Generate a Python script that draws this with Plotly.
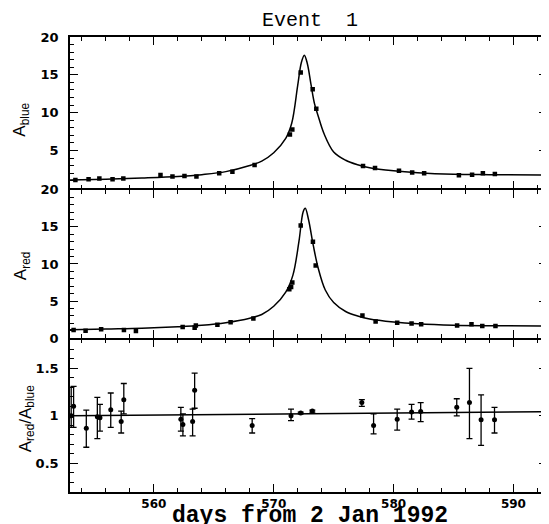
import plotly.graph_objects as go
from plotly.subplots import make_subplots

# ---- data ----
blue_days = [553.45, 554.55, 555.45, 556.55, 557.45, 560.55, 561.55, 562.55, 563.55, 565.45,
             566.55, 568.4, 571.35, 571.55, 572.25, 573.25, 573.55, 577.45, 578.45, 580.45,
             581.55, 582.55, 585.45, 586.55, 587.45, 588.45]
blue_amp = [1.09, 1.18, 1.28, 1.18, 1.28, 1.75, 1.54, 1.62, 1.54, 1.97,
            2.2, 3.07, 7.1, 7.76, 15.3, 13.1, 10.5, 2.93, 2.67, 2.33,
            2.07, 1.97, 1.71, 1.8, 1.97, 1.88]
blue_fit_days = [553.0, 556.0, 559.0, 562.0, 564.0, 566.0, 568.0, 569.0, 570.0, 571.0, 571.5,
                 572.0, 572.3, 572.55, 572.8, 573.1, 573.4, 573.7, 574.2, 575.0, 576.0, 577.0,
                 578.0, 580.0, 582.0, 585.0, 588.0, 592.8]
blue_fit_amp = [1.1, 1.2, 1.35, 1.55, 1.8, 2.2, 3.0, 3.6, 4.7, 6.6, 8.6,
                13.6, 16.6, 17.6, 16.5, 13.8, 11.2, 9.6, 7.2, 4.8, 3.7, 3.1,
                2.7, 2.3, 2.05, 1.85, 1.8, 1.75]

red_days = [553.3, 554.3, 555.6, 557.5, 558.5, 562.4, 563.4, 563.5, 565.3, 566.4,
            568.3, 571.3, 571.45, 571.55, 572.25, 573.27, 573.5, 577.4, 578.5, 580.3,
            581.5, 582.3, 585.3, 586.5, 587.4, 588.5]
red_amp = [1.11, 1.02, 1.2, 1.1, 0.98, 1.5, 1.4, 1.73, 1.82, 2.17,
           2.67, 6.6, 6.9, 7.5, 15.2, 13.0, 9.8, 3.07, 2.27, 2.09,
           2.0, 1.9, 1.73, 1.9, 1.64, 1.64]
red_fit_days = [553.0, 556.0, 559.0, 562.0, 564.0, 566.0, 568.0, 569.0, 570.0, 571.0, 571.6,
                572.1, 572.45, 572.63, 572.9, 573.3, 573.7, 574.3, 575.0, 576.0, 577.0,
                578.0, 580.0, 582.0, 585.0, 588.0, 592.8]
red_fit_amp = [1.15, 1.25, 1.35, 1.55, 1.75, 2.1, 2.7, 3.2, 4.3, 6.2, 8.5,
               13.0, 17.0, 17.5, 16.0, 12.5, 9.5, 6.5, 4.8, 3.6, 3.0,
               2.6, 2.2, 1.95, 1.75, 1.68, 1.64]

ratio_days = [553.1, 553.3, 554.36, 555.28, 555.5, 556.4, 557.27, 557.49, 562.25, 562.42,
              563.23, 563.4, 568.2, 571.44, 572.25, 573.22, 577.35, 578.33, 580.3, 581.5,
              582.26, 585.27, 586.33, 587.3, 588.42]
ratio = [1.0, 1.10, 0.87, 0.99, 0.98, 1.065, 0.94, 1.17, 0.965, 0.91,
         0.94, 1.27, 0.90, 1.0, 1.03, 1.05, 1.14, 0.90, 0.965, 1.04,
         1.045, 1.09, 1.14, 0.96, 0.96]
ratio_hi = [1.30, 1.31, 1.06, 1.195, 1.12, 1.24, 1.05, 1.34, 1.09, 1.02,
            1.07, 1.45, 0.97, 1.07, 1.04, 1.06, 1.17, 1.02, 1.07, 1.12,
            1.14, 1.18, 1.50, 1.22, 1.09]
ratio_lo = [0.88, 0.88, 0.67, 0.76, 0.84, 0.88, 0.82, 1.02, 0.84, 0.79,
            0.79, 1.08, 0.82, 0.95, 1.02, 1.04, 1.10, 0.81, 0.85, 0.965,
            0.94, 1.0, 0.76, 0.69, 0.82]
ratio_line_days = [553.0, 592.8]
ratio_line = [1.0, 1.045]

x_range = [553.0, 592.8]
amp_ticks_top = [5, 10, 15, 20]
amp_ticks_mid = [0, 5, 10, 15, 20]
ratio_ticks = [0.5, 1, 1.5]
ratio_tick_text = ["0.5", "1", "1.5"]

err_plus = [h - v for h, v in zip(ratio_hi, ratio)]
err_minus = [v - l for v, l in zip(ratio, ratio_lo)]

fig = make_subplots(rows=3, cols=1, shared_xaxes=True, vertical_spacing=0)

fig.add_trace(go.Scatter(x=blue_fit_days, y=blue_fit_amp, mode="lines", line_shape="spline",
                         line=dict(color="black", width=1.5)), row=1, col=1)
fig.add_trace(go.Scatter(x=blue_days, y=blue_amp, mode="markers",
                         marker=dict(symbol="square", size=4.5, color="black")), row=1, col=1)
fig.add_trace(go.Scatter(x=red_fit_days, y=red_fit_amp, mode="lines", line_shape="spline",
                         line=dict(color="black", width=1.5)), row=2, col=1)
fig.add_trace(go.Scatter(x=red_days, y=red_amp, mode="markers",
                         marker=dict(symbol="square", size=4.5, color="black")), row=2, col=1)
fig.add_trace(go.Scatter(x=ratio_line_days, y=ratio_line, mode="lines",
                         line=dict(color="black", width=1.5)), row=3, col=1)
fig.add_trace(go.Scatter(x=ratio_days, y=ratio, mode="markers",
                         marker=dict(symbol="circle", size=5, color="black"),
                         error_y=dict(type="data", array=err_plus, arrayminus=err_minus,
                                      color="black", thickness=1.3, width=3)), row=3, col=1)

ytickfont = dict(family="DejaVu Sans", size=13, color="black", weight="bold")
xtickfont = dict(family="DejaVu Sans", size=12, color="black", weight="bold")
common_axis = dict(showline=True, linecolor="black", linewidth=1.5, mirror="ticks",
                   ticks="inside", tickcolor="black", tickwidth=1.2, showgrid=False,
                   zeroline=False, automargin=False)

for r in (1, 2, 3):
    fig.update_xaxes(range=x_range, tick0=560, dtick=10, ticklen=8,
                     minor=dict(dtick=2, tick0=560, ticklen=4, ticks="inside",
                                tickcolor="black", tickwidth=1.2, showgrid=False),
                     showticklabels=(r == 3), tickfont=xtickfont, ticklabelstandoff=0,
                     **common_axis, row=r, col=1)

# small gaps between domains so the outward-drawn border lines of
# neighbouring panels land on the same pixel row
d = 0.00165
fig.update_yaxes(range=[0, 20], tickvals=amp_ticks_top, ticklen=8,
                 minor=dict(dtick=1, ticklen=4, ticks="inside", tickcolor="black",
                            tickwidth=1.2, showgrid=False), ticklabelstandoff=7,
                 tickfont=ytickfont, domain=[0.6659 + d, 1.0], **common_axis, row=1, col=1)
fig.update_yaxes(range=[0, 20], tickvals=amp_ticks_mid, ticklen=8,
                 minor=dict(dtick=1, ticklen=4, ticks="inside", tickcolor="black",
                            tickwidth=1.2, showgrid=False), ticklabelstandoff=7,
                 tickfont=ytickfont, domain=[0.3363 + d, 0.6659 - d], **common_axis, row=2, col=1)
fig.update_yaxes(range=[0.2, 1.8], tickvals=ratio_ticks, ticktext=ratio_tick_text,
                 ticklen=8,
                 minor=dict(dtick=0.1, tick0=0, ticklen=4, ticks="inside", tickcolor="black",
                            tickwidth=1.2, showgrid=False), ticklabelstandoff=7,
                 tickfont=ytickfont, domain=[0.0, 0.3363 - d], **common_axis, row=3, col=1)

ytitle_font = dict(family="Liberation Sans", size=17, color="black")
annots = [
    dict(text="A<sub>blue</sub>", x=-0.103, y=0.818, textangle=-90),
    dict(text="A<sub>red</sub>", x=-0.100, y=0.497, textangle=-90),
    dict(text="A<sub>red</sub>/A<sub>blue</sub>", x=-0.090, y=0.16, textangle=-90),
]
for a in annots:
    fig.add_annotation(xref="paper", yref="paper", xanchor="center", yanchor="middle",
                       showarrow=False, font=ytitle_font, **a)

fig.add_annotation(text="days from 2 Jan 1992", xref="paper", yref="paper",
                   x=0.503, y=-0.052, xanchor="center", yanchor="middle", showarrow=False,
                   borderpad=0,
                   font=dict(family="Liberation Mono", size=23, color="black", weight="bold"))
fig.add_annotation(text="Event\u00a0\u00a01", xref="paper", yref="paper",
                   x=0.503, y=1 + 29 / 455, xanchor="center", yanchor="top", showarrow=False,
                   borderpad=0,
                   font=dict(family="Liberation Mono", size=20, color="black"))

# the page body adds an 8px offset, so the figure is laid out 8px smaller
fig.update_layout(
    width=541, height=524,
    margin=dict(l=62, r=2, t=29, b=40),
    paper_bgcolor="white", plot_bgcolor="white",
    showlegend=False,
)

fig.write_html("out.html")
